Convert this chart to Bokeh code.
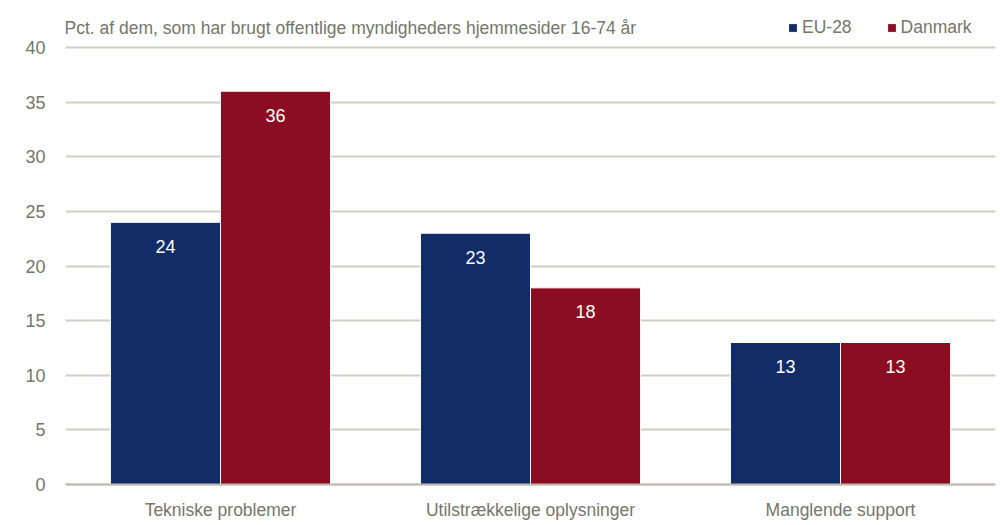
from bokeh.plotting import figure
from bokeh.models import (ColumnDataSource, Legend, LegendItem, FixedTicker, Range1d,
                          Label, Span)
from bokeh.transform import dodge
from bokeh.core.properties import value
from bokeh.embed import file_html
from bokeh.resources import INLINE

categories = ["Tekniske problemer", "Utilstrækkelige oplysninger", "Manglende support"]
eu28 = [24, 23, 13]
danmark = [36, 18, 13]
series_names = ["EU-28", "Danmark"]
y_ticks = [0, 5, 10, 15, 20, 25, 30, 35, 40]
title_text = "Pct. af dem, som har brugt offentlige myndigheders hjemmesider 16-74 år"

NAVY = "#112c66"
RED = "#8a0d22"
TXT = "#76766a"
GRID = "#cfcfc5"
ZERO = "#bcbcb0"
FONT = "Liberation Sans"

# layout (pixels)
FRAME_W, FRAME_H = 930, 521
PX_PER_UNIT = 437 / 40.0
Y_TOP_PAD = 47
Y_BOTTOM_PAD = FRAME_H - Y_TOP_PAD - 437
y_min = -Y_BOTTOM_PAD / PX_PER_UNIT
y_max = 40 + Y_TOP_PAD / PX_PER_UNIT

src = ColumnDataSource(dict(cat=categories, eu=eu28, dk=danmark,
                            eu_lbl=[str(v) for v in eu28], dk_lbl=[str(v) for v in danmark],
                            zero=[0] * len(categories)))

p = figure(x_range=categories, y_range=Range1d(y_min, y_max),
           frame_width=FRAME_W, frame_height=FRAME_H,
           min_border_left=65, min_border_right=2, min_border_top=0, min_border_bottom=0,
           output_backend="svg", toolbar_location=None)

p.ygrid.grid_line_color = GRID
p.ygrid.grid_line_width = 2
p.xgrid.grid_line_color = None
p.add_layout(Span(location=0, dimension="width", line_color=ZERO, line_width=2))

bw = 0.355
r_eu = p.vbar(x=dodge("cat", -0.1775, range=p.x_range), top="eu", width=bw, source=src,
              fill_color=NAVY, line_color="white", line_width=1)
r_dk = p.vbar(x=dodge("cat", 0.1775, range=p.x_range), top="dk", width=bw, source=src,
              fill_color=RED, line_color="white", line_width=1)

for off, col in ((-0.1775, "eu"), (0.1775, "dk")):
    p.text(x=dodge("cat", off, range=p.x_range), y=col, text=col + "_lbl", source=src,
           text_color="white", text_font=value(FONT), text_font_size="18px",
           text_align="center", text_baseline="middle", y_offset=24)

# category labels below the zero line
p.text(x="cat", y="zero", text="cat", source=src, text_color=TXT, text_font=value(FONT),
       text_font_size="17.5px", text_align="center", text_baseline="middle", y_offset=25)

title = Label(x=-1, y=FRAME_H - 27, x_units="screen", y_units="screen", text=title_text,
              text_font=FONT, text_font_size="17.5px", text_color=TXT,
              text_baseline="alphabetic", text_align="left")
p.add_layout(title)

legend = Legend(items=[LegendItem(label=series_names[0], renderers=[r_eu]),
                       LegendItem(label=series_names[1], renderers=[r_dk])],
                location=(722, FRAME_H - 38), orientation="horizontal",
                label_text_font=FONT, label_text_font_size="17.5px", label_text_color=TXT,
                glyph_width=11, glyph_height=11, label_standoff=4, spacing=34,
                padding=0, margin=0, border_line_color=None, background_fill_alpha=0)
p.add_layout(legend)

p.yaxis.ticker = FixedTicker(ticks=y_ticks)
p.yaxis.axis_line_color = None
p.yaxis.major_tick_line_color = None
p.yaxis.major_tick_out = 0
p.yaxis.major_tick_in = 0
p.yaxis.minor_tick_line_color = None
p.yaxis.major_label_text_font = FONT
p.yaxis.major_label_text_font_size = "18px"
p.yaxis.major_label_text_color = TXT
p.yaxis.major_label_standoff = 20
p.xaxis.visible = False

p.outline_line_color = None
p.background_fill_color = "white"
p.border_fill_color = "white"

open("out.html", "w").write(file_html(p, INLINE))
